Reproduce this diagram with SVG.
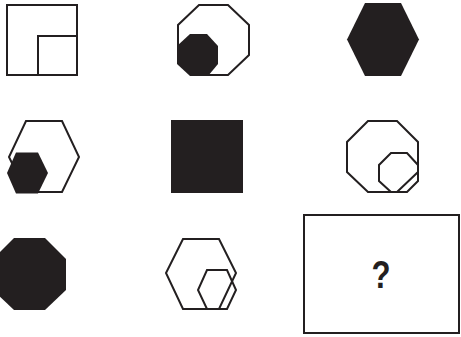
<svg xmlns="http://www.w3.org/2000/svg" width="461" height="337" viewBox="0 0 461 337">
<style>
.o{fill:none;stroke:#231f20;stroke-width:2;stroke-linejoin:miter}
.b{fill:#231f20;stroke:none}
.q{font-family:"Liberation Sans",Arial,sans-serif;font-weight:bold;font-size:38px;fill:#231f20}
</style>
<rect width="461" height="337" fill="#fff"/>
<g id="cell1">
<rect class="o" x="7" y="5" width="70" height="70"/>
<rect class="o" x="38" y="36" width="39" height="39"/>
</g>
<g id="cell2">
<polygon class="o" points="199,5 228,5 249,25 249,55 228,75 199,75 178,55 178,25"/>
<polygon class="b" points="190,34 207,34 218,46 218,64 208,76 190,76 177,64 177,46"/>
</g>
<g id="cell3">
<polygon class="b" points="365,3 401,3 419,39.5 401,76 365,76 347,39.5"/>
</g>
<g id="cell4">
<polygon class="o" points="26,121 62,121 79,157 62,192 26,192 9,157"/>
<polygon class="b" points="16,152.5 38,152.5 48,173 38,193.5 16,193.5 7,173"/>
</g>
<g id="cell5">
<rect class="b" x="171" y="120" width="72" height="73"/>
</g>
<g id="cell6">
<polygon class="o" points="368,121 397,121 418,142 418,172 397,192 368,192 347,172 347,142"/>
<polygon class="o" points="391,153 407,153 418,165 418,181 407,192 391,192 379,181 379,165"/>
</g>
<g id="cell7">
<polygon class="b" points="14,238 45,238 66,259 66,290 45,310 14,310 -7,290 -7,259"/>
</g>
<g id="cell8">
<polygon class="o" points="183,239 219,239 236,273 219,309 183,309 166,273"/>
<polygon class="o" points="207,270 227,270 236,290 227,309 207,309 198,290"/>
</g>
<g id="answer">
<rect class="o" x="304" y="215" width="155" height="118"/>
<text class="q" x="381" y="288" text-anchor="middle" transform="translate(381 0) scale(0.82 1) translate(-381 0)">?</text>
</g>
</svg>
